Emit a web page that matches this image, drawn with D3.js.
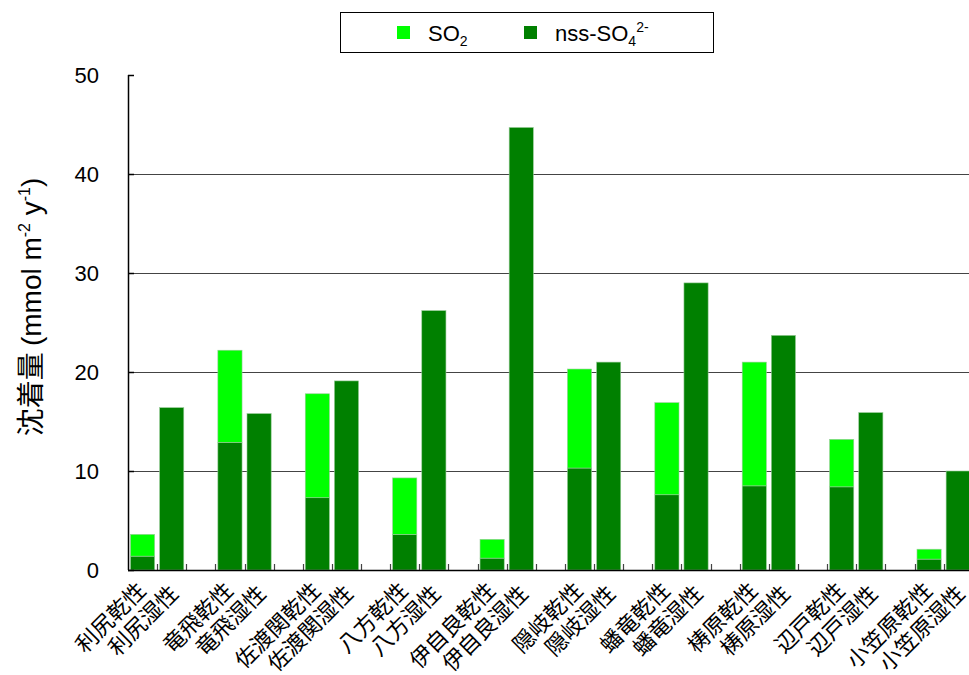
<!DOCTYPE html>
<html>
<head>
<meta charset="utf-8">
<script src="https://cdn.jsdelivr.net/npm/d3@7"></script>
<style>
  body { margin: 0; background: #fff; }
  text { font-family: "Liberation Sans", Arial, sans-serif; }
  .jp { font-family: "Noto Sans CJK JP", sans-serif; }
</style>
</head>
<body>
<div id="chart"></div>
<script>
// sites, and for each site a dry (乾性) and wet (湿性) deposition bar
const sites = ["利尻", "竜飛", "佐渡関", "八方", "伊自良", "隠岐", "蟠竜", "梼原", "辺戸", "小笠原"];
// dry deposition split into nss-SO4 and SO2
const dryNssSO4 = [1.4, 12.9, 7.3, 3.6, 1.2, 10.3, 7.6, 8.5, 8.4, 1.1];
const drySO2 = [2.2, 9.3, 10.5, 5.7, 1.9, 10.0, 9.3, 12.5, 4.8, 1.0];
// wet deposition (nss-SO4 only)
const wetNssSO4 = [16.4, 15.8, 19.1, 26.2, 44.7, 21.0, 29.0, 23.7, 15.9, 10.0];
const yTicks = [0, 10, 20, 30, 40, 50];

const colorSO2 = "#00ff00";
const colorSO4 = "#008000";

const w = 969;
const h = 675;
const mLeft = 128, mTop = 75, mBottom = 570;

// 3 slots per site (dry, wet, blank), the last blank slot falls off the right edge
const slots = [];
sites.forEach((s, i) => {
  slots.push(s + "乾性");
  slots.push(s + "湿性");
  if (i < sites.length - 1) slots.push("gap" + i);
});

const x = d3.scaleBand()
  .domain(slots)
  .range([mLeft, mLeft + 29.13 * slots.length])
  .paddingInner(0.17)
  .paddingOuter(0.085);

const y = d3.scaleLinear().domain([0, 50]).range([mBottom, mTop]);

const svg = d3.select("#chart")
  .append("svg")
  .attr("width", w)
  .attr("height", h);

// gridlines
svg.selectAll("line.grid")
  .data(yTicks.filter((d) => d > 0 && d < 50))
  .join("line")
  .attr("class", "grid")
  .attr("x1", mLeft)
  .attr("x2", w)
  .attr("y1", (d) => Math.round(y(d)) + 0.5)
  .attr("y2", (d) => Math.round(y(d)) + 0.5)
  .attr("stroke", "#444")
  .attr("stroke-width", 1.2);

// stacked data
const bars = [];
sites.forEach((s, i) => {
  bars.push({ key: s + "乾性", y0: 0, y1: dryNssSO4[i], color: colorSO4 });
  bars.push({ key: s + "乾性", y0: dryNssSO4[i], y1: dryNssSO4[i] + drySO2[i], color: colorSO2 });
  bars.push({ key: s + "湿性", y0: 0, y1: wetNssSO4[i], color: colorSO4 });
});

svg.selectAll("rect.bar")
  .data(bars)
  .join("rect")
  .attr("class", "bar")
  .attr("x", (d) => x(d.key))
  .attr("width", x.bandwidth())
  .attr("y", (d) => y(d.y1))
  .attr("height", (d) => y(d.y0) - y(d.y1))
  .attr("fill", (d) => d.color)
  .attr("stroke", "#9c9")
  .attr("stroke-width", 0.6);

// category ticks between slots, pointing up into the plot
const tickXs = d3.range(1, slots.length + 1).map((i) => mLeft + x.step() * i);
svg.selectAll("line.xtick")
  .data(tickXs)
  .join("line")
  .attr("class", "xtick")
  .attr("x1", (d) => Math.round(d) + 0.5)
  .attr("x2", (d) => Math.round(d) + 0.5)
  .attr("y1", mBottom)
  .attr("y2", mBottom - 6)
  .attr("stroke", "#444")
  .attr("stroke-width", 1.2);

// axes lines
svg.append("line")
  .attr("x1", mLeft + 0.5).attr("x2", mLeft + 0.5)
  .attr("y1", mTop).attr("y2", mBottom)
  .attr("stroke", "#000").attr("stroke-width", 1.5);
svg.append("line")
  .attr("x1", mLeft).attr("x2", w)
  .attr("y1", mBottom + 0.5).attr("y2", mBottom + 0.5)
  .attr("stroke", "#000").attr("stroke-width", 1.5);

// y ticks
svg.selectAll("line.ytick")
  .data(yTicks)
  .join("line")
  .attr("class", "ytick")
  .attr("x1", mLeft)
  .attr("x2", mLeft + 6)
  .attr("y1", (d) => Math.round(y(d)) + 0.5)
  .attr("y2", (d) => Math.round(y(d)) + 0.5)
  .attr("stroke", "#000")
  .attr("stroke-width", 1.5);

svg.selectAll("text.ylab")
  .data(yTicks)
  .join("text")
  .attr("class", "ylab")
  .attr("x", 99)
  .attr("y", (d) => y(d))
  .attr("dy", "0.36em")
  .attr("text-anchor", "end")
  .attr("font-size", "22px")
  .attr("fill", "#000")
  .text((d) => d);

// x labels, rotated; wet labels sit a little lower than dry ones
svg.selectAll("text.xlab")
  .data(slots.filter((s) => !s.startsWith("gap")))
  .join("text")
  .attr("class", "xlab jp")
  .attr("transform", (d) => {
    const wet = d.endsWith("湿性");
    const cx = x(d) + x.bandwidth() / 2 + (wet ? -2.7 : -6.2);
    const cy = wet ? 584 : 581;
    return `translate(${cx}, ${cy}) rotate(-45)`;
  })
  .attr("text-anchor", "end")
  .attr("dy", "0.7em")
  .attr("font-size", "22px")
  .attr("fill", "#000")
  .text((d) => d);

// y axis title
const yTitle = svg.append("text")
  .attr("transform", `translate(41, 307) rotate(-90)`)
  .attr("text-anchor", "middle")
  .attr("font-size", "28px")
  .attr("fill", "#000");
yTitle.append("tspan").attr("class", "jp").text("沈着量 ");
yTitle.append("tspan").text("(mmol m");
yTitle.append("tspan").attr("font-size", "16px").attr("dy", "-11").text("-2");
yTitle.append("tspan").attr("dy", "11").text(" y");
yTitle.append("tspan").attr("font-size", "16px").attr("dy", "-11").text("-1");
yTitle.append("tspan").attr("dy", "11").text(")");

// legend
const legend = svg.append("g");
legend.append("rect")
  .attr("x", 340.5).attr("y", 12.5)
  .attr("width", 373).attr("height", 40)
  .attr("fill", "#fff")
  .attr("stroke", "#000")
  .attr("stroke-width", 1);

const legendItems = [
  { color: colorSO2, x: 397, main: "SO", sub: "2", sup: "" },
  { color: colorSO4, x: 524, main: "nss-SO", sub: "4", sup: "2-" }
];
legendItems.forEach((d) => {
  legend.append("rect")
    .attr("x", d.x).attr("y", 26)
    .attr("width", 13).attr("height", 13)
    .attr("fill", d.color);
  const t = legend.append("text")
    .attr("x", d.x + 31)
    .attr("y", 41)
    .attr("font-size", "22px")
    .attr("fill", "#000");
  t.append("tspan").text(d.main);
  t.append("tspan").attr("font-size", "14px").attr("dy", "5").text(d.sub);
  if (d.sup) {
    t.append("tspan").attr("font-size", "14px").attr("dy", "-14").text(d.sup);
  }
});
</script>
</body>
</html>
